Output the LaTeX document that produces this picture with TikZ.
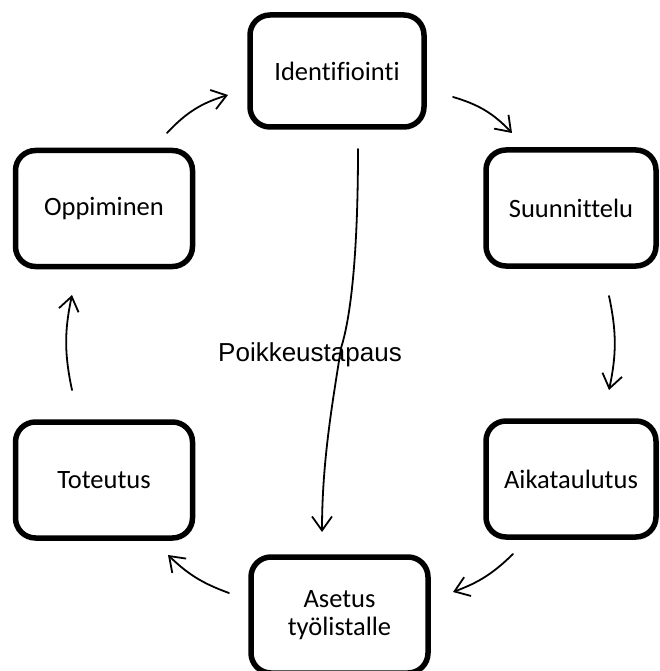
\documentclass[tikz,border=0pt]{standalone}
\usepackage{fontspec}
\setmainfont{Carlito}[Ligatures=CommonOff]
\newfontfamily\arialf{Liberation Sans}
\usetikzlibrary{arrows.meta}
\tikzset{
  box/.style={draw=black, line width=5.5pt, rounded corners=20pt, fill=white,
    inner sep=0pt, align=center, font=\fontsize{26.5}{28.5}\selectfont},
  arr/.style={draw=black, line width=1.8pt, line cap=round,
    -{Straight Barb[length=14pt,width=20pt,line width=1.8pt]}},
}
\begin{document}
\begin{tikzpicture}[x=1pt,y=-1pt]
\useasboundingbox (0,0) rectangle (660,671);
% boxes
\node[box, minimum width=174pt, minimum height=112pt] (ident) at (337,71) {Identifiointi};
\node[box, minimum width=170pt, minimum height=116pt] (suun) at (571,208) {Suunnittelu};
\node[box, minimum width=170pt, minimum height=116pt] (aika) at (571,479) {Aikataulutus};
\node[box, minimum width=177pt, minimum height=116pt] (asetus) at (339.5,615) {Asetus\\työlistalle};
\node[box, minimum width=177pt, minimum height=116pt] (tot) at (104,480) {Toteutus};
\node[box, minimum width=177pt, minimum height=116pt] (opp) at (104,208.5) {Oppiminen};
% label
\node[font=\arialf\fontsize{26}{28}\selectfont, inner sep=0pt] (poik) at (310,355) {Poikkeustapaus};
% free ends of connectors
\coordinate (a1s) at (167,133); \coordinate (a1e) at (228,95);
\coordinate (a2s) at (453,97);  \coordinate (a2e) at (512,133);
\coordinate (a3s) at (609,296); \coordinate (a3e) at (609,390);
\coordinate (a4s) at (513,554); \coordinate (a4e) at (453,592);
\coordinate (a5s) at (229,593); \coordinate (a5e) at (168,555);
\coordinate (a6s) at (72,390);  \coordinate (a6e) at (72,295);
\coordinate (a7s) at (358,149); \coordinate (a7m) at (341,348); \coordinate (a7e) at (322,532);
% connectors
\draw[arr] (a1s) to[bend left=15] (a1e);
\draw[arr] (a2s) to[bend left=15] (a2e);
\draw[arr] (a3s) to[bend left=12] (a3e);
\draw[arr] (a4s) to[bend left=12] (a4e);
\draw[arr] (a5s) to[bend left=12] (a5e);
\draw[arr] (a6s) to[bend left=12] (a6e);
\draw[arr] (a7s) .. controls (358,260) and (350,320) .. (a7m) .. controls (333,400) and (322,460) .. (a7e);
\end{tikzpicture}
\end{document}
